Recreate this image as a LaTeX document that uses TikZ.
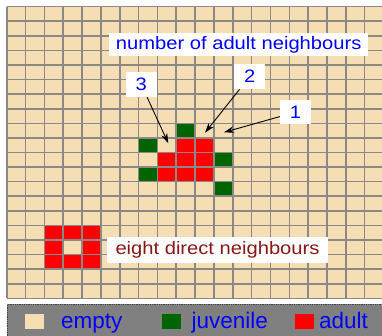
\documentclass[tikz,border=0pt]{standalone}
\usepackage{fontspec}
\setmainfont{Liberation Sans}
\newfontfamily\labfont[FakeStretch=1.12]{Liberation Sans}
\usetikzlibrary{arrows.meta}
\definecolor{wheatc}{RGB}{245,222,179}
\definecolor{gridc}{RGB}{140,137,132}
\definecolor{juvc}{RGB}{0,100,0}
\definecolor{adultc}{RGB}{255,0,0}
\definecolor{bluetxt}{RGB}{0,0,255}
\definecolor{redtxt}{RGB}{139,22,22}
\definecolor{barc}{RGB}{128,128,128}
\definecolor{bardot}{RGB}{70,70,70}
\newcommand\cellfill[3]{\fill[#1] ({6.7+#2*18.84},{6.7+#3*14.58}) rectangle ++(18.84,14.58);}
\tikzset{
  gridline/.style={draw=gridc, line width=1.6pt},
  labelbox/.style={fill=white, inner sep=0pt, text=bluetxt, font=\labfont\fontsize{18}{20}\selectfont},
  pointer/.style={draw=black, line width=0.9pt, -{Stealth[length=10pt,width=6.5pt]}},
  legsq/.style={inner sep=0pt, minimum width=18.8pt, minimum height=15.3pt},
  legtxt/.style={inner sep=0pt, anchor=base west, text=bluetxt, font=\fontsize{22.5}{24}\selectfont}
}
\begin{document}
\begin{tikzpicture}[x=1pt,y=-1pt]
\useasboundingbox (0,0) rectangle (382,336);
\clip (0,0) rectangle (382,336);
\fill[white] (0,0) rectangle (382,336);
% background of grid
\fill[wheatc] (6.7,6.7) rectangle (384,298.3);
% juveniles
\cellfill{juvc}{9}{8}
\cellfill{juvc}{7}{9}
\cellfill{juvc}{11}{10}
\cellfill{juvc}{7}{11}
\cellfill{juvc}{11}{12}
% adults
\cellfill{adultc}{9}{9}
\cellfill{adultc}{10}{9}
\cellfill{adultc}{8}{10}
\cellfill{adultc}{9}{10}
\cellfill{adultc}{10}{10}
\cellfill{adultc}{8}{11}
\cellfill{adultc}{9}{11}
\cellfill{adultc}{10}{11}
% ring of eight neighbours
\foreach \c/\r in {2/15,3/15,4/15,2/16,4/16,2/17,3/17,4/17}{\cellfill{adultc}{\c}{\r}}
% grid lines
\foreach \i in {0,...,20}{\draw[gridline] ({6.7+\i*18.84},6.7) -- ({6.7+\i*18.84},298.3);}
\foreach \j in {0,...,20}{\draw[gridline] (6.7,{6.7+\j*14.58}) -- (384,{6.7+\j*14.58});}
% labels
\node[labelbox, minimum width=259.3pt, minimum height=22.4pt] (title) at (238.7,44.5) {number of adult neighbours};
\node[labelbox, minimum width=30.7pt, minimum height=25pt] (l3) at (141.3,84.6) {3};
\node[labelbox, minimum width=31pt, minimum height=25pt] (l2) at (249.7,76.7) {2};
\node[labelbox, minimum width=31pt, minimum height=24.3pt] (l1) at (295.5,112.2) {1};
\node[labelbox, text=redtxt, minimum width=221.6pt, minimum height=26pt] (eight) at (217.5,249.7) {eight direct neighbours};
% arrow targets
\coordinate (t3) at (168.3,143.3);
\coordinate (t2) at (205,132.7);
\coordinate (t1) at (224,132.3);
\draw[pointer] (l3) -- (t3);
\draw[pointer] (l2) -- (t2);
\draw[pointer] (l1) -- (t1);
% legend bar
\fill[barc] (7.3,304.3) rectangle (384,338);
\draw[bardot, densely dotted, line width=0.8pt] (7.3,338) -- (7.3,304.3) -- (384,304.3);
\node[legsq, fill=wheatc] (sqe) at (34.6,321.5) {};
\node[legsq, fill=juvc] (sqj) at (171.6,321.2) {};
\node[legsq, fill=adultc] (sqa) at (304.1,321.2) {};
\node[legtxt] (te) at (61,328.6) {empty};
\node[legtxt] (tj) at (191.5,328.6) {juvenile};
\node[legtxt] (ta) at (318.8,328.6) {adult};
\end{tikzpicture}
\end{document}
